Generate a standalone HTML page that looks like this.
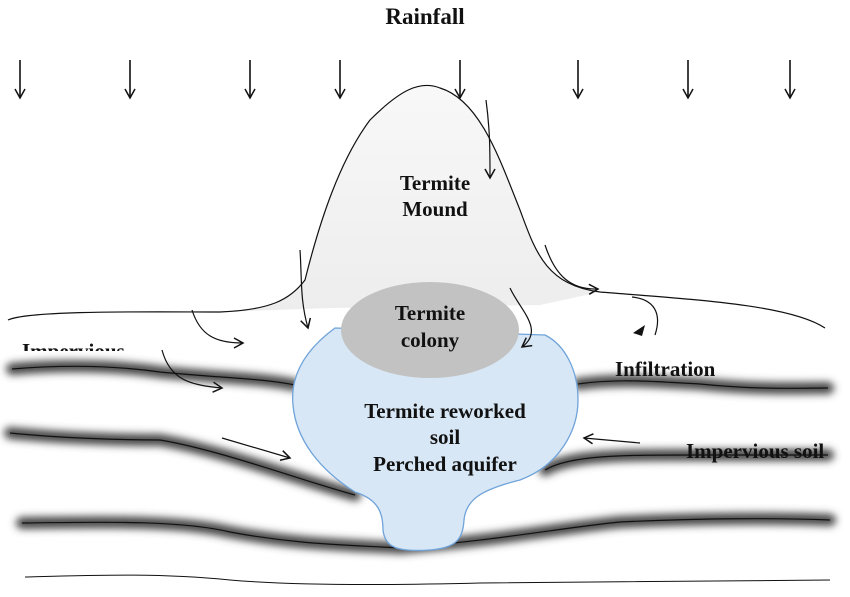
<!DOCTYPE html>
<html><head><style>
html,body{margin:0;padding:0;background:#fff;}
svg{display:block;}
text{font-family:"Liberation Serif",serif;font-weight:bold;fill:#111;}
</style></head><body>
<svg width="850" height="597" viewBox="0 0 850 597" xmlns="http://www.w3.org/2000/svg">
<defs>
<filter id="blur" x="-5%" y="-50%" width="110%" height="200%"><feGaussianBlur stdDeviation="4"/></filter>
<linearGradient id="mg" x1="0" y1="0" x2="0" y2="1"><stop offset="0" stop-color="#f8f8f8"/><stop offset="1" stop-color="#ededed"/></linearGradient>
<marker id="ah" markerWidth="12" markerHeight="12" refX="10" refY="6" orient="auto" markerUnits="userSpaceOnUse"><path d="M1,1 L10,6 L1,11" fill="none" stroke="#111" stroke-width="1.5"/></marker>
<clipPath id="cp"><rect x="0" y="340" width="200" height="11"/></clipPath>
</defs>
<text x="425" y="24" font-size="23" text-anchor="middle">Rainfall</text>
<g stroke="#111" stroke-width="1.6" fill="none" marker-end="url(#ah)">
<line x1="20" y1="60" x2="20" y2="98"/><line x1="130" y1="60" x2="130" y2="98"/>
<line x1="250" y1="60" x2="250" y2="98"/><line x1="340" y1="60" x2="340" y2="98"/>
<line x1="460" y1="60" x2="460" y2="98"/><line x1="578" y1="60" x2="578" y2="98"/>
<line x1="688" y1="60" x2="688" y2="98"/><line x1="790" y1="60" x2="790" y2="98"/>
</g>
<!-- mound fill -->
<path d="M220,312 C270,310 290,300 305,280 C320,220 340,160 370,120 C400,90 420,80 440,88 C480,100 500,160 520,210 C535,250 545,285 600,292 L540,305 L330,308 Z" fill="url(#mg)"/>
<path d="M8,320 C30,310 150,312 220,312 C270,310 290,300 305,280 C320,220 340,160 370,120 C400,90 420,80 440,88 C480,100 500,160 520,210 C535,250 545,285 600,292 C700,300 790,305 825,328" fill="none" stroke="#111" stroke-width="1.2"/>
<!-- shadowed layers -->
<g stroke="#444" stroke-width="12" fill="none" filter="url(#blur)" stroke-linecap="round">
<path d="M12,369 C60,365 110,365 160,372 C220,378 260,378 295,385"/>
<path d="M578,384 C620,378 660,382 700,384 C760,390 800,388 828,388"/>
<path d="M10,433 C60,438 120,440 160,440 C220,450 300,480 355,495"/>
<path d="M545,470 C570,455 620,455 700,455 C760,455 800,455 828,455"/>
<path d="M22,523 C100,522 180,520 230,532 C300,545 350,545 400,548 C500,540 560,528 620,522 C700,518 780,518 830,520"/>
</g>
<g stroke="#111" stroke-width="1.2" fill="none">
<path d="M12,369 C60,365 110,365 160,372 C220,378 260,378 295,385"/>
<path d="M578,384 C620,378 660,382 700,384 C760,390 800,388 828,388"/>
<path d="M10,433 C60,438 120,440 160,440 C220,450 300,480 355,495"/>
<path d="M545,470 C570,455 620,455 700,455 C760,455 800,455 828,455"/>
<path d="M22,523 C100,522 180,520 230,532 C300,545 350,545 400,548 C500,540 560,528 620,522 C700,518 780,518 830,520"/>
<path d="M25,577 C100,575 160,573 230,580 C300,586 400,585 480,583 C600,581 720,582 830,580" stroke-width="1"/>
</g>
<!-- aquifer -->
<path d="M335,328 C305,350 290,375 293,405 C296,440 320,470 355,492 C380,500 383,515 383,530 C385,548 398,552 430,550 C455,548 463,540 464,520 C466,500 480,490 520,480 C560,465 578,430 578,400 C578,370 565,345 545,335 Z" fill="#d8e7f5" stroke="#6fa3da" stroke-width="1.3"/>
<ellipse cx="430" cy="330" rx="89" ry="48" fill="#c2c2c2"/>
<!-- curved arrows -->
<g stroke="#111" stroke-width="1.2" fill="none" marker-end="url(#ah)">
<path d="M486,100 C490,130 490,150 490,178"/>
<path d="M300,250 C302,280 300,300 308,328"/>
<path d="M192,310 C200,335 215,343 243,343"/>
<path d="M162,350 C170,380 190,385 222,388"/>
<path d="M222,438 L290,458"/>
<path d="M510,288 C520,310 545,330 522,347"/>
<path d="M545,245 C555,275 570,290 598,289"/>
<path d="M640,443 L584,438"/>
</g>
<path d="M632,297 C660,300 660,320 655,335" stroke="#111" stroke-width="1.2" fill="none"/>
<path d="M633,333 L645,325 L642,336 Z" fill="#111"/>
<!-- labels -->
<g font-size="21">
<text x="435" y="190" text-anchor="middle">Termite</text>
<text x="435" y="216" text-anchor="middle">Mound</text>
<text x="430" y="320" text-anchor="middle">Termite</text>
<text x="430" y="347" text-anchor="middle">colony</text>
<text x="445" y="418" text-anchor="middle">Termite reworked</text>
<text x="445" y="444" text-anchor="middle">soil</text>
<text x="445" y="471" text-anchor="middle">Perched aquifer</text>
<text x="615" y="376">Infiltration</text>
<text x="686" y="458">Impervious soil</text>
<text x="22" y="358" clip-path="url(#cp)">Impervious</text>
</g>
</svg>
</body></html>
